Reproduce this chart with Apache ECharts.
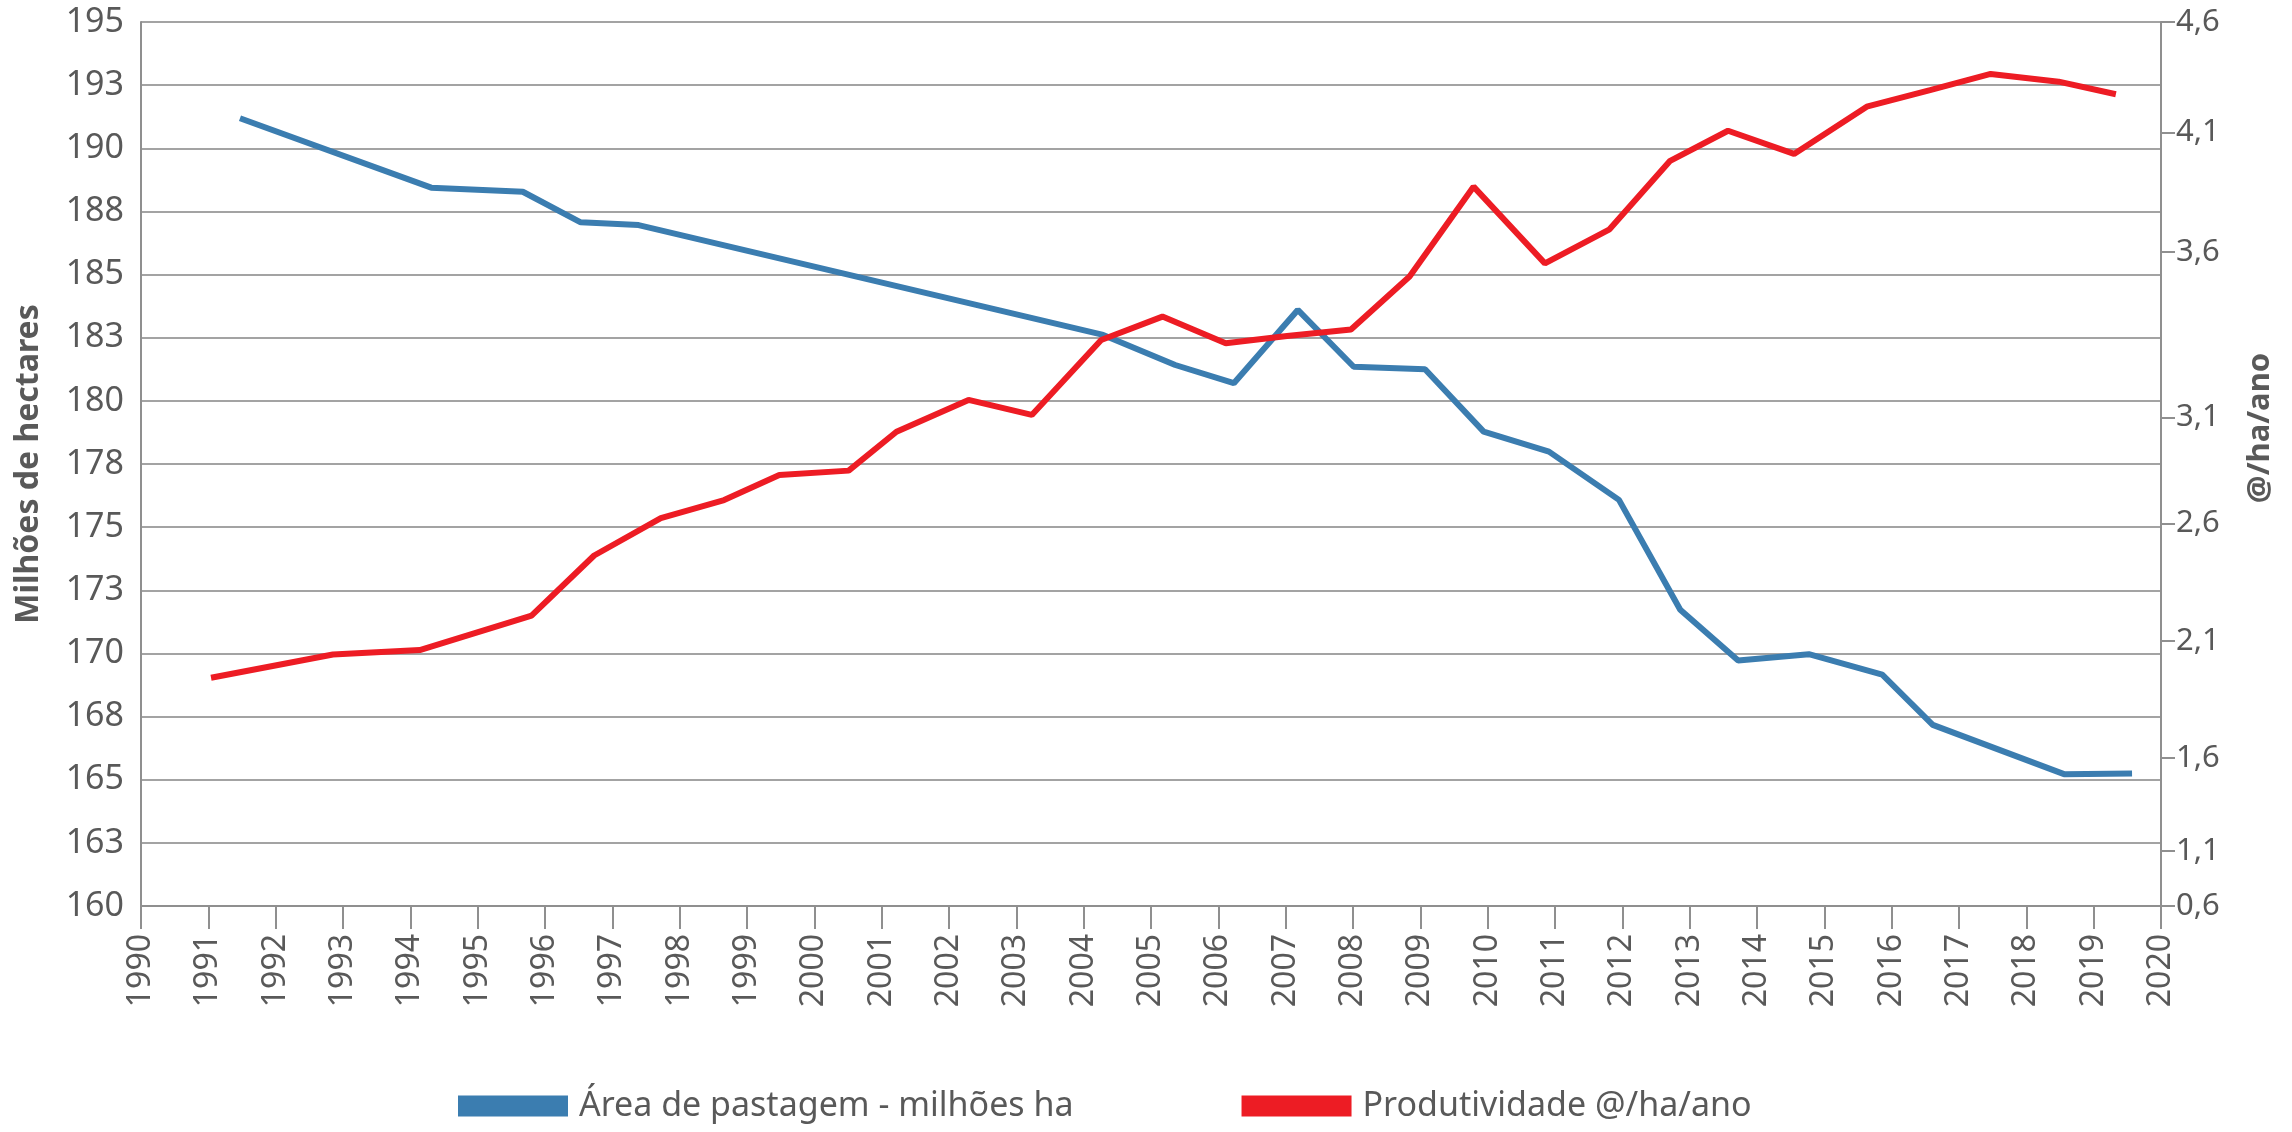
<!DOCTYPE html>
<html>
<head>
<meta charset="utf-8">
<script src="https://cdn.jsdelivr.net/npm/echarts@6/dist/echarts.min.js"></script>
<style>
  html, body { margin: 0; padding: 0; background: #fff; }
  #chart { width: 2292px; height: 1132px; }
</style>
</head>
<body>
<div id="chart"></div>
<script>
// pasture area (millions of ha), points as placed on the year axis
var areaYears = [1991.47, 1994.31, 1995.67, 1996.53, 1997.39, 2004.29, 2005.36, 2006.23, 2007.18, 2008.01,
                 2009.07, 2009.94, 2010.91, 2011.95, 2012.86, 2013.72, 2014.77, 2015.86, 2016.61, 2018.56, 2019.57];
var areaValues = [191.19, 188.44, 188.28, 187.07, 186.96, 182.61, 181.42, 180.70, 183.60, 181.35,
                  181.25, 178.78, 177.99, 176.08, 171.73, 169.72, 169.97, 169.16, 167.17, 165.22, 165.25];

// productivity (@/ha/ano)
var prodYears = [1991.04, 1992.85, 1994.14, 1995.80, 1996.73, 1997.72, 1998.66, 1999.48, 2000.51, 2001.22,
                 2002.29, 2003.23, 2004.26, 2005.17, 2006.11, 2007.02, 2007.97, 2008.84, 2009.79, 2010.85,
                 2011.81, 2012.71, 2013.57, 2014.55, 2015.63, 2016.57, 2017.47, 2018.48, 2019.33];
var prodValues = [1.633, 1.738, 1.758, 1.914, 2.186, 2.355, 2.437, 2.550, 2.570, 2.746,
                  2.890, 2.822, 3.161, 3.267, 3.146, 3.179, 3.209, 3.448, 3.855, 3.508,
                  3.662, 3.972, 4.108, 4.003, 4.217, 4.292, 4.365, 4.330, 4.273];

// right axis ticks sit where the original chart drew them
var prodTicks = [0.6, 0.85, 1.27, 1.8, 2.33, 2.81, 3.56, 4.1, 4.6];
var prodTickLabels = ['0,6', '1,1', '1,6', '2,1', '2,6', '3,1', '3,6', '4,1', '4,6'];

var seriesNames = ['Área de pastagem - milhões ha', 'Produtividade @/ha/ano'];

function pairs(xs, ys) {
  var out = [];
  for (var i = 0; i < xs.length; i++) out.push([xs[i], ys[i]]);
  return out;
}

var textColor = '#595959';
var axisGray = '#8f8f8f';
var font = 'Noto Sans';

var chart = echarts.init(document.getElementById('chart'));
chart.setOption({
  backgroundColor: '#ffffff',
  animation: false,
  textStyle: { fontFamily: font },
  grid: { left: 141, right: 131, top: 22, bottom: 226 },
  legend: {
    data: seriesNames,
    left: 453,
    top: 1084,
    icon: 'rect',
    itemWidth: 110,
    itemHeight: 21,
    itemGap: 168,
    textStyle: { fontFamily: font, fontSize: 34, color: textColor, padding: [0, 0, 0, 6] }
  },
  xAxis: {
    type: 'value',
    min: 1990,
    max: 2020,
    interval: 1,
    axisLine: { lineStyle: { color: axisGray, width: 2 } },
    axisTick: { show: true, length: 23, lineStyle: { color: axisGray, width: 2 } },
    splitLine: { show: false },
    axisLabel: {
      rotate: 90,
      margin: 28,
      fontFamily: font,
      fontSize: 32,
      color: textColor,
      formatter: function (v) { return String(v); }
    }
  },
  yAxis: [
    {
      type: 'value',
      min: 160,
      max: 195,
      interval: 2.5,
      name: 'Milhões de hectares',
      nameLocation: 'middle',
      nameGap: 96,
      nameRotate: 90,
      nameTextStyle: { fontFamily: font, fontSize: 32, fontWeight: 'bold', color: textColor },
      axisLine: { show: true, lineStyle: { color: axisGray, width: 2 } },
      axisTick: { show: false },
      splitLine: { show: true, lineStyle: { color: '#a3a3a3', width: 2 } },
      axisLabel: {
        margin: 17,
        fontFamily: font,
        fontSize: 34,
        color: textColor,
        formatter: function (v) { return String(Math.round(v)); }
      }
    },
    {
      type: 'value',
      min: 0.6,
      max: 4.6,
      position: 'right',
      name: '@/ha/ano',
      nameLocation: 'middle',
      nameGap: 84,
      nameRotate: 90,
      nameTextStyle: { fontFamily: font, fontSize: 31, fontWeight: 'bold', color: textColor, padding: [0, 0, 0, 72] },
      axisLine: { show: true, lineStyle: { color: axisGray, width: 2 } },
      axisTick: { show: true, length: 14, customValues: prodTicks, lineStyle: { color: axisGray, width: 2 } },
      splitLine: { show: false },
      axisLabel: {
        margin: 15,
        fontFamily: font,
        fontSize: 31,
        color: textColor,
        customValues: prodTicks,
        formatter: function (v) {
          var i = prodTicks.indexOf(v);
          return i >= 0 ? prodTickLabels[i] : '';
        }
      }
    }
  ],
  series: [
    {
      name: seriesNames[0],
      type: 'line',
      yAxisIndex: 0,
      data: pairs(areaYears, areaValues),
      showSymbol: false,
      lineStyle: { color: '#3b7db0', width: 6 },
      itemStyle: { color: '#3b7db0' }
    },
    {
      name: seriesNames[1],
      type: 'line',
      yAxisIndex: 1,
      data: pairs(prodYears, prodValues),
      showSymbol: false,
      lineStyle: { color: '#ed1c24', width: 6 },
      itemStyle: { color: '#ed1c24' }
    }
  ]
});
</script>
</body>
</html>
